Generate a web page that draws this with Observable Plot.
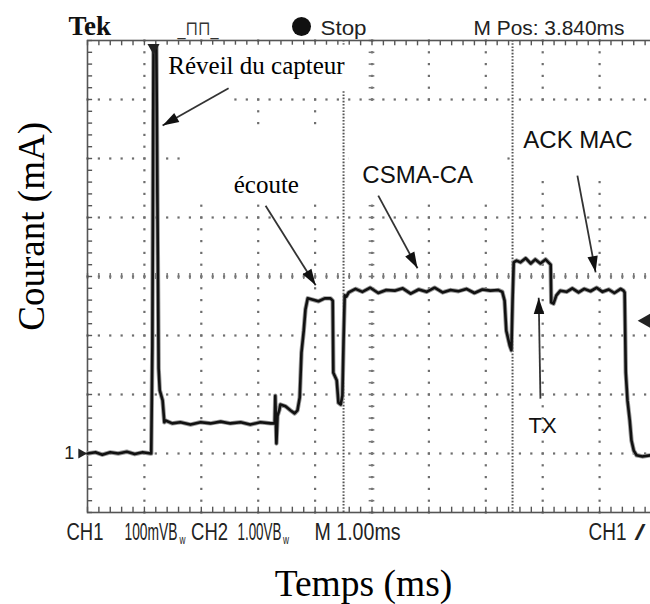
<!DOCTYPE html>
<html><head><meta charset="utf-8">
<script src="https://cdn.jsdelivr.net/npm/d3@7"></script>
<script src="https://cdn.jsdelivr.net/npm/@observablehq/plot@0.6"></script>
<style>html,body{margin:0;padding:0;background:#fff;overflow:hidden}</style>
</head><body><div id="chart"></div>
<script>
// ---- Trace data: time (ms, 1 ms/div) and current (screen divisions) ----
const timeMs = [0,0.14,0.26,0.40,0.54,0.69,0.83,0.97,1.11,1.12,
  1.14,1.16,1.21,1.25,1.27,1.32,1.35,
  1.37,1.49,1.63,1.81,1.99,2.16,2.34,2.51,2.69,2.86,3.04,3.22,3.29,
  3.30,3.32,3.34,3.37,3.39,3.48,3.57,3.64,3.69,3.73,3.76,3.80,3.83,3.87,
  3.95,4.06,4.17,4.27,4.31,4.32,4.38,4.41,4.45,4.48,4.50,4.52,4.55,
  4.59,4.71,4.83,4.97,5.11,5.25,5.40,5.54,5.68,5.82,5.96,6.10,6.24,6.38,6.52,6.66,6.80,6.94,7.08,7.22,7.29,
  7.33,7.36,7.42,7.45,7.47,7.49,7.54,
  7.61,7.70,7.79,7.87,7.96,8.05,8.10,8.14,8.15,8.19,8.24,8.31,
  8.42,8.52,8.63,8.73,8.84,8.95,9.05,9.16,9.26,9.37,9.42,
  9.44,9.46,9.49,9.53,9.56,9.60,9.65,9.75,9.90,10.0];
const current = [1.00,1.02,0.98,1.02,1.00,1.03,0.99,1.02,1.00,1.00,
  2.83,7.90,7.90,2.44,2.07,1.90,1.53,
  1.56,1.51,1.53,1.49,1.53,1.51,1.54,1.51,1.53,1.49,1.53,1.51,1.51,
  1.98,1.17,1.64,1.73,1.83,1.80,1.73,1.68,1.73,1.95,2.71,3.08,3.44,3.63,
  3.61,3.58,3.63,3.63,3.59,2.37,2.24,1.86,1.83,1.98,2.92,3.68,3.66,
  3.73,3.79,3.74,3.81,3.72,3.77,3.76,3.80,3.71,3.78,3.74,3.81,3.73,3.77,3.75,3.79,3.72,3.78,3.76,3.77,3.74,
  3.59,3.08,2.83,2.75,3.59,4.24,4.27,
  4.24,4.31,4.22,4.29,4.22,4.29,4.24,4.20,3.56,3.54,3.68,3.76,
  3.74,3.80,3.73,3.79,3.75,3.81,3.74,3.78,3.72,3.79,3.76,
  3.73,2.37,1.90,1.56,1.22,1.05,0.97,0.95,0.97,0.97];

// cursors (ms), trigger position, trigger level
const cursorsMs = [4.50, 7.47];
const triggerMs = 1.16;
const triggerLevel = 3.25;
const groundLevel = 1;

// annotation labels and arrows
const serifNotes = [{label: "Réveil du capteur", t: 1.42, v: 7.44}, {label: "écoute", t: 2.57, v: 5.41}];
const sansNotes = [{label: "CSMA-CA", t: 4.83, v: 5.58}, {label: "ACK MAC", t: 7.66, v: 6.17}];
const txNotes = [{label: "TX", t: 7.75, v: 1.34}];
const arrows = [
  {t1: 2.48, v1: 7.19, t2: 1.32, v2: 6.56},
  {t1: 3.13, v1: 5.20, t2: 4.01, v2: 3.85},
  {t1: 5.11, v1: 5.37, t2: 5.80, v2: 4.14},
  {t1: 8.61, v1: 5.71, t2: 8.93, v2: 4.07},
  {t1: 7.96, v1: 1.93, t2: 7.93, v2: 3.64}
];
// white label boxes pasted over the scope grid
const boxes = [
  {t1: 1.25, t2: 4.66, v1: 7.15, v2: 7.92},
  {t1: 1.28, t2: 2.55, v1: 6.31, v2: 7.15},
  {t1: 1.72, t2: 4.45, v1: 5.32, v2: 6.51},
  {t1: 4.59, t2: 7.26, v1: 5.36, v2: 6.85},
  {t1: 7.52, t2: 10.0, v1: 5.76, v2: 6.85}
];

// scope header / footer readouts
const headerTexts = [{label: "Stop", t: 4.095, v: 8.085, w: 46}, {label: "M Pos: 3.840ms", t: 6.784, v: 8.085, w: 151}];
const footerTexts = [
  {label: "CH1", t: -0.369, v: -0.458, w: 37},
  {label: "100mVB", t: 0.650, v: -0.458, w: 53},
  {label: "CH2", t: 1.82, v: -0.458, w: 37},
  {label: "1.00VB", t: 2.636, v: -0.458, w: 44},
  {label: "M 1.00ms", t: 3.99, v: -0.458, w: 86},
  {label: "CH1", t: 8.805, v: -0.458, w: 38},
  {label: "/", t: 9.613, v: -0.458, w: 11}
];
const subTexts = [{label: "w", t: 1.615, v: -0.53, w: 6}, {label: "w", t: 3.435, v: -0.53, w: 6}];
const iconTexts = [{label: "_⊓⊓_", t: 1.58, v: 8.10, w: 41}];

const xTitle = "Temps (ms)";
const yTitle = "Courant (mA)";

// ---- layout ----
const X_RANGE = [87, 656], Y_RANGE = [512, 40];
const kx = (X_RANGE[1] - X_RANGE[0]) / 10, ky = (Y_RANGE[0] - Y_RANGE[1]) / 8;

const trace = timeMs.map((t, i) => ({t, v: current[i]}));
const minorX = d3.range(0, 10.001, 0.2);
const minorY = d3.range(0, 8.001, 0.2);
// graticule dots: along each vertical division line and each horizontal division line
const gridDots = [
  ...d3.range(1, 10).flatMap(t => minorY.map(v => ({t, v}))),
  ...d3.range(1, 8).flatMap(v => minorX.map(t => ({t, v})))
];

// narrow filled arrowhead symbol (tip at -1.6r)
const headSymbol = {draw(ctx, size) {
  const r = Math.sqrt(size / Math.PI);
  ctx.moveTo(0, -1.6 * r); ctx.lineTo(0.8 * r, 0.9 * r); ctx.lineTo(-0.8 * r, 0.9 * r); ctx.closePath();
}};
const headR = 6.5;
const heads = arrows.map(a => {
  const dx = (a.t2 - a.t1) * kx, dy = -(a.v2 - a.v1) * ky;
  const len = Math.hypot(dx, dy), back = 1.6 * headR;
  return {t: a.t2 - dx / len * back / kx, v: a.v2 + dy / len * back / ky, rot: Math.atan2(dx, -dy) * 180 / Math.PI};
});

const svg = Plot.plot({
  width: 650, height: 604,
  marginLeft: X_RANGE[0], marginRight: 650 - X_RANGE[1], marginTop: Y_RANGE[1], marginBottom: 604 - Y_RANGE[0],
  x: {domain: [0, 10], range: X_RANGE, axis: null},
  y: {domain: [0, 8], range: Y_RANGE, axis: null},
  style: {background: "white", fontFamily: "Liberation Sans, sans-serif"},
  marks: [
    // dotted graticule
    Plot.dot(gridDots, {x: "t", y: "v", symbol: "square", r: 1.25, fill: "#6e6e6e", stroke: "none"}),
    // centre cross minor ticks
    Plot.ruleX(minorX, {y1: 4 - 0.05, y2: 4 + 0.05, stroke: "#777", strokeWidth: 1.5}),
    Plot.ruleY(minorY, {x1: 5 - 0.05, x2: 5 + 0.05, stroke: "#777", strokeWidth: 1.5}),
    // border ticks
    Plot.ruleY(minorY, {x1: 0, x2: 0.09, stroke: "#555", strokeWidth: 1.4}),
    Plot.ruleX(minorX, {y1: 0, y2: 0.09, stroke: "#555", strokeWidth: 1.4}),
    Plot.ruleX(minorX, {y1: 8, y2: 8 - 0.09, stroke: "#555", strokeWidth: 1.4}),
    // cursors
    Plot.ruleX(cursorsMs, {stroke: "#555", strokeWidth: 2, strokeDasharray: "1.6,1.6"}),
    // white label boxes
    Plot.rect(boxes, {x1: "t1", x2: "t2", y1: "v1", y2: "v2", fill: "white"}),
    Plot.frame({stroke: "#555", strokeWidth: 1.6}),
    // trace
    Plot.line(trace, {x: "t", y: "v", stroke: "#9a9a9a", strokeWidth: 4.4}),
    Plot.line(trace, {x: "t", y: "v", stroke: "#111", strokeWidth: 2.6}),
    // markers
    Plot.dot([triggerMs], {x: d => d, y: () => 7.88, symbol: "triangle", r: 4.5, rotate: 180, fill: "#222", stroke: "none"}),
    Plot.dot([triggerLevel], {x: () => 9.82, y: d => d, symbol: "triangle", r: 5.5, rotate: -90, fill: "#222", stroke: "none"}),
    Plot.dot([groundLevel], {x: () => -0.11, y: d => d, symbol: "triangle", r: 3.8, rotate: 90, fill: "#222", stroke: "none"}),
    Plot.text([groundLevel], {x: () => -0.32, y: d => d, text: () => "1", fontSize: 18, fill: "#222"}),
    // arrows
    Plot.link(arrows, {x1: "t1", y1: "v1", x2: "t2", y2: "v2", stroke: "#333", strokeWidth: 1.8}),
    Plot.dot(heads, {x: "t", y: "v", symbol: headSymbol, r: headR, rotate: "rot", fill: "#111", stroke: "none"}),
    // annotations
    Plot.text(serifNotes, {x: "t", y: "v", text: "label", textAnchor: "start", lineAnchor: "bottom", fontSize: 25, fontFamily: "Liberation Serif, serif", fill: "#000"}),
    Plot.text(sansNotes, {x: "t", y: "v", text: "label", textAnchor: "start", lineAnchor: "bottom", fontSize: 24, fontFamily: "Liberation Sans, sans-serif", fill: "#111"}),
    Plot.text(txNotes, {x: "t", y: "v", text: "label", textAnchor: "start", lineAnchor: "bottom", fontSize: 22, fontFamily: "Liberation Sans, sans-serif", fill: "#111"}),
    // scope header
    Plot.text(["Tek"], {x: () => -0.334, y: () => 8.085, text: d => d, textAnchor: "start", lineAnchor: "bottom", fontSize: 27, fontWeight: "bold", fontFamily: "Liberation Serif, serif", fill: "#111"}),
    Plot.text(iconTexts, {x: "t", y: "v", text: "label", textAnchor: "start", lineAnchor: "bottom", fontSize: 20, fontFamily: "DejaVu Sans, sans-serif", fill: "#333", ariaDescription: "fit-icon"}),
    Plot.dot([0], {x: () => 3.761, y: () => 8.237, r: 9.5, fill: "#111", stroke: "none"}),
    Plot.text(headerTexts, {x: "t", y: "v", text: "label", textAnchor: "start", lineAnchor: "bottom", fontSize: 21, fill: "#222", ariaDescription: "fit-header"}),
    // scope footer
    Plot.text(footerTexts, {x: "t", y: "v", text: "label", textAnchor: "start", lineAnchor: "bottom", fontSize: 23, fill: "#222", ariaDescription: "fit-footer"}),
    Plot.text(subTexts, {x: "t", y: "v", text: "label", textAnchor: "start", lineAnchor: "bottom", fontSize: 12, fill: "#222", ariaDescription: "fit-sub"}),
    // axis titles
    Plot.text([xTitle], {x: () => 4.85, y: () => -1.41, text: d => d, lineAnchor: "bottom", fontSize: 37.5, fontFamily: "Liberation Serif, serif", fill: "#000"}),
    Plot.text([yTitle], {x: () => -0.773, y: () => 4.85, text: d => d, rotate: -90, lineAnchor: "bottom", fontSize: 37, fontFamily: "Liberation Serif, serif", fill: "#000"})
  ]
});
document.getElementById("chart").append(svg);

// condense scope readouts horizontally to their on-screen widths (scale about the start anchor)
const fits = {"fit-header": headerTexts, "fit-footer": footerTexts, "fit-sub": subTexts, "fit-icon": iconTexts};
for (const [key, rows] of Object.entries(fits)) {
  d3.select(svg).selectAll(`g[aria-description="${key}"] text`).each(function(_, i) {
    if (!rows[i]) return;
    const natural = this.getComputedTextLength();
    if (!natural) return;
    const sx = rows[i].w / natural;
    let tf = this.getAttribute("transform");
    if (!tf) {
      const x = +this.getAttribute("x") || 0, y = +this.getAttribute("y") || 0;
      this.setAttribute("x", 0); this.setAttribute("y", 0);
      tf = `translate(${x},${y})`;
    }
    this.setAttribute("transform", `${tf} scale(${sx},1)`);
  });
}
</script>
</body></html>
